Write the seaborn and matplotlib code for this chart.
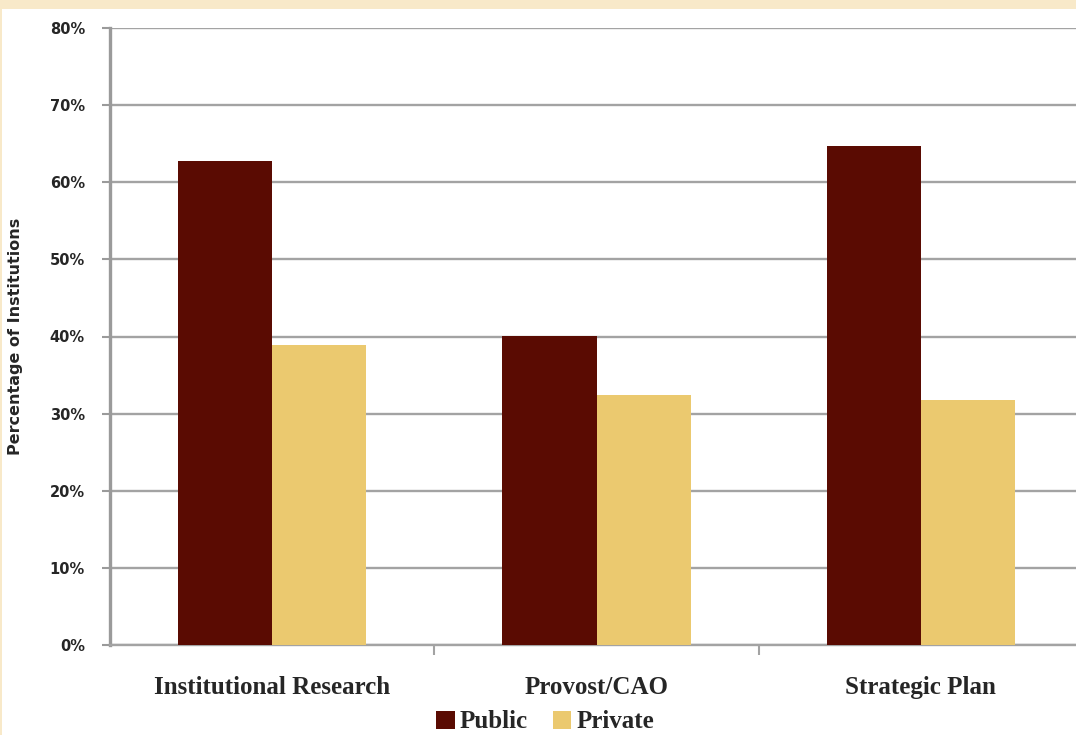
import matplotlib
matplotlib.use("Agg")
import matplotlib.pyplot as plt
import seaborn as sns
import pandas as pd
from matplotlib.patches import Rectangle
from matplotlib.ticker import FixedLocator, PercentFormatter

categories = ["Institutional Research", "Provost/CAO", "Strategic Plan"]
public_vals = [62.8, 40.1, 64.7]
private_vals = [38.9, 32.4, 31.8]
series = ["Public", "Private"]
yticks = [0, 10, 20, 30, 40, 50, 60, 70, 80]

df = pd.DataFrame({
    "Category": categories * 2,
    "Sector": [series[0]] * 3 + [series[1]] * 3,
    "Value": public_vals + private_vals,
})

sns.set_theme(style="white")
plt.rcParams["font.family"] = ["Liberation Serif", "DejaVu Serif"]

fig = plt.figure(figsize=(10.76, 7.35), dpi=100)
fig.patch.set_facecolor("#F8E9C9")
# white panel inside the cream frame
fig.patches.append(Rectangle((2 / 1076, 0), 1, 1 - 9 / 735, transform=fig.transFigure,
                             facecolor="white", edgecolor="none", zorder=-10))

ax = fig.add_axes([110 / 1076, 1 - 645 / 735, 973 / 1076, (645 - 28) / 735])
ax.set_facecolor("none")

palette = {"Public": "#5A0B02", "Private": "#EBC96F"}
sns.barplot(data=df, x="Category", y="Value", hue="Sector", hue_order=series,
            order=categories, palette=palette, width=0.58, gap=0,
            saturation=1, ax=ax, legend=False, edgecolor="none", zorder=3)

ax.set_xlim(-0.5, 2.5)
ax.set_ylim(0, 80)
ax.yaxis.set_major_locator(FixedLocator(yticks))
ax.yaxis.set_major_formatter(PercentFormatter(decimals=0))
ax.grid(axis="y", color="#A3A3A3", linewidth=1.7, zorder=0)
ax.set_axisbelow(True)

for s in ["top", "right"]:
    ax.spines[s].set_visible(False)
ax.spines["left"].set_color("#9A9A9A")
ax.spines["left"].set_linewidth(2.4)
ax.spines["bottom"].set_color("#A3A3A3")
ax.spines["bottom"].set_linewidth(1.7)

ax.tick_params(axis="y", which="major", length=6, width=1.5, color="#9A9A9A",
               direction="out", pad=12, left=True)
for lbl in ax.get_yticklabels():
    lbl.set_fontfamily("DejaVu Sans")
    lbl.set_fontweight("bold")
    lbl.set_fontsize(10.5)

ax.xaxis.set_minor_locator(FixedLocator([0.5, 1.5]))
ax.tick_params(axis="x", which="minor", length=7, width=1.5, color="#A3A3A3",
               direction="out", bottom=True)
ax.tick_params(axis="x", which="major", length=0, pad=22, labelsize=18)
for lbl in ax.get_xticklabels():
    lbl.set_fontweight("bold")

ax.set_xlabel("")
ax.set_ylabel("Percentage of Institutions", fontfamily="DejaVu Sans",
              fontweight="bold", fontsize=11.5)
ax.yaxis.set_label_coords(-0.089, 0.5)

handles = [Rectangle((0, 0), 1, 1, facecolor=palette[s], edgecolor="none") for s in series]
fig.legend(handles, series, loc="center", bbox_to_anchor=(545 / 1076, 1 - 722 / 735),
           ncol=2, frameon=False, handlelength=0.75, handleheight=0.75,
           handletextpad=0.2, columnspacing=1.0,
           prop={"family": "Liberation Serif", "weight": "bold", "size": 18})

fig.savefig("out.png", dpi=100, facecolor=fig.get_facecolor())
